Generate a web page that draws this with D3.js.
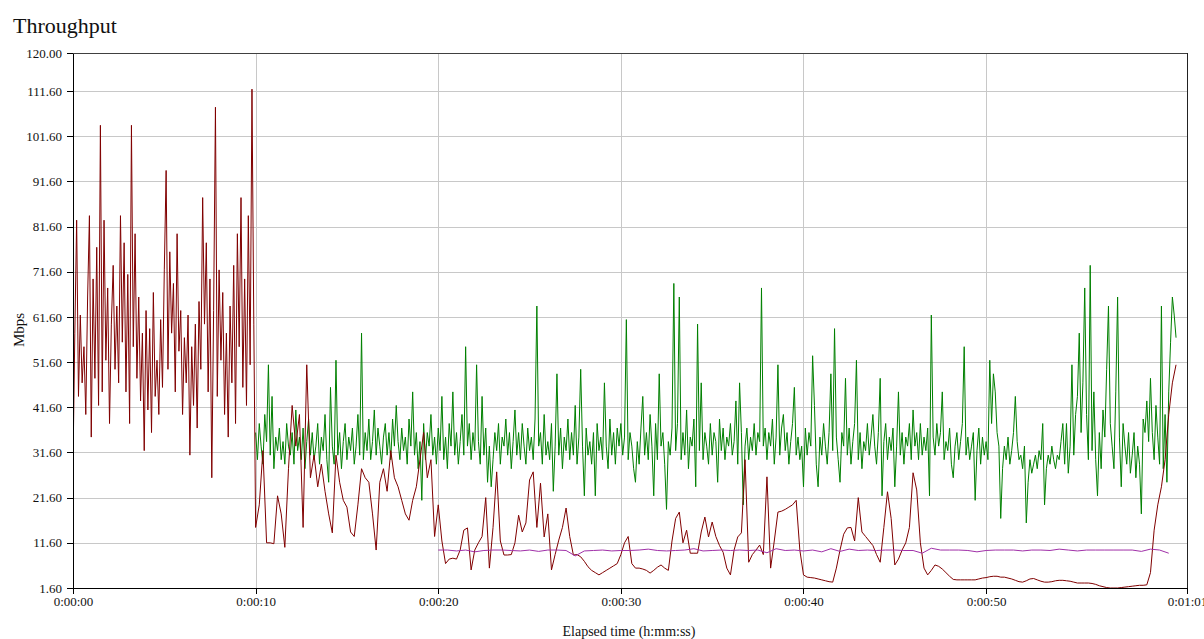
<!DOCTYPE html>
<html>
<head>
<meta charset="utf-8">
<script src="https://cdn.jsdelivr.net/npm/d3@7"></script>
<style>
body { margin: 0; background: #fff; }
svg { display: block; }
text { font-family: "Liberation Serif", "DejaVu Serif", serif; fill: #111; }
</style>
</head>
<body>
<div id="chart"></div>
<script>
// tick values
var yTicks = [1.6, 11.6, 21.6, 31.6, 41.6, 51.6, 61.6, 71.6, 81.6, 91.6, 101.6, 111.6, 120]
var xTicks = [0, 10, 20, 30, 40, 50, 61]

// red series, 0.0 .. 10.0 s, one value every 0.1 s
var redHead = [
  29, 58, 83, 44, 62, 47, 55, 40, 66, 84,
  35, 70, 48, 77, 42, 104, 45, 83, 52, 68,
  38, 60, 73, 50, 64, 47, 84, 56, 78, 45,
  71, 38, 104, 55, 80, 48, 66, 43, 58, 32,
  63, 41, 59, 36, 67, 44, 52, 40, 61, 46,
  72, 94, 50, 76, 58, 69, 45, 80, 54, 63,
  40, 57, 47, 62, 31, 55, 42, 60, 37, 65,
  50, 88, 60, 78, 45, 70, 26, 63, 108, 44,
  72, 52, 67, 40, 58, 35, 64, 47, 73, 38,
  80, 55, 88, 46, 70, 42, 84, 51, 112, 60,
  15
]
// red series, 10.2 .. 60.4 s, one value every 0.2 s (one row = one second)
var redTail = [
  20, 32, 11.6, 11.6, 11.4,
  22, 18, 10.6, 28, 42,
  33, 40, 15, 51, 26,
  31, 24, 29, 23, 18,
  13.8, 31, 25, 21, 19.5,
  14, 13, 20, 28, 26,
  25, 18, 10, 25, 28,
  23, 32, 26, 24, 21,
  18, 16.6, 21, 24, 30,
  36, 26, 30, 13, 20,
  12, 7, 8, 8.2, 8,
  10, 14.4, 14.9, 5.6, 10,
  11.6, 13, 21.6, 6, 15,
  27.3, 12, 8.9, 8.9, 9,
  11.6, 17.7, 14, 16, 25.5,
  27.3, 15, 24.8, 12.9, 18,
  5.6, 9, 12.2, 15, 19.3,
  13, 8.9, 9, 8.5, 7.5,
  6.3, 5.5, 5, 4.5, 5,
  5.5, 6, 6.5, 7, 9,
  11.6, 13, 7, 6, 6,
  5.8, 5.5, 4.9, 5.5, 6.2,
  6.7, 6, 5.5, 12, 17,
  18.4, 11.6, 14.4, 9.3, 9.3,
  9.3, 14, 17.3, 12.9, 16.2,
  13, 11, 9.5, 6, 4.5,
  10, 12.9, 13.8, 30, 7.3,
  9, 10, 11.1, 9, 26.2,
  6, 12, 18.4, 18.6, 19,
  19.5, 20, 21, 10, 4.5,
  4, 3.9, 3.8, 3.6, 3.4,
  3.2, 3, 2.9, 6, 10,
  13.5, 14.9, 15, 12, 21.6,
  14, 13, 12, 11, 9,
  7.3, 15, 22.9, 17, 6.7,
  8, 10, 11.6, 15, 27.1,
  23.3, 11.6, 6, 4.5, 5.5,
  6.7, 6.4, 5.8, 5, 4.2,
  3.5, 3.4, 3.4, 3.4, 3.4,
  3.4, 3.4, 3.6, 3.8, 3.9,
  4.1, 4.2, 4.2, 4.0, 4.0,
  3.8, 3.6, 3.3, 3.0, 2.9,
  3.2, 3.6, 3.7, 3.4, 3.1,
  2.9, 2.9, 3.0, 3.2, 3.3,
  3.3, 3.2, 3.1, 2.9, 2.7,
  2.7, 2.7, 2.7, 2.6, 2.4,
  2.1, 1.9, 1.7, 1.6, 1.6,
  1.6, 1.7, 1.8, 1.9, 2.0,
  2.1, 2.2, 2.2, 2.3, 5,
  14.4, 20, 24, 30, 40,
  47, 51
]
// green series, 10.0 .. 60.4 s, one value every 0.1 s (one row = one second)
var green = [
  36, 30, 38, 33, 29, 40, 34, 51, 31, 44,
  28, 35, 32, 37, 30, 34, 29, 38, 33, 31,
  36, 29, 41, 32, 35, 30, 37, 28, 34, 39,
  31, 36, 30, 33, 38, 29, 35, 32, 40, 30,
  25, 46, 33, 29, 52, 31, 36, 28, 34, 38,
  30, 35, 32, 37, 29, 33, 40, 31, 58, 30,
  36, 32, 39, 30, 34, 41, 31, 37, 33, 29,
  35, 38, 31, 36, 30, 39, 33, 42, 34, 30,
  37, 32, 35, 29, 39, 33, 45, 31, 36, 28,
  34, 21, 38, 30, 36, 33, 40, 31, 35, 29,
  37, 32, 44, 30, 35, 28, 38, 33, 45, 31,
  36, 29, 34, 40, 31, 55, 33, 38, 30, 36,
  32, 51, 34, 29, 44, 31, 37, 25, 33, 24,
  30, 36, 32, 38, 29, 35, 33, 39, 31, 36,
  28, 34, 41, 31, 36, 30, 38, 33, 29, 37,
  32, 35, 30, 39, 64, 33, 36, 29, 40, 31,
  34, 30, 38, 23, 33, 49, 31, 37, 28, 35,
  32, 39, 30, 36, 31, 42, 29, 35, 50, 33,
  22, 37, 31, 34, 29, 36, 22, 38, 32, 35,
  30, 47, 33, 28, 39, 31, 36, 29, 37, 33,
  38, 31, 35, 61, 30, 36, 33, 28, 25, 34,
  29, 37, 44, 31, 36, 30, 40, 33, 22, 38,
  30, 49, 33, 36, 29, 19, 34, 31, 37, 69,
  32, 38, 66, 30, 36, 31, 41, 28, 35, 33,
  39, 24, 60, 32, 47, 30, 36, 33, 29, 38,
  31, 36, 34, 25, 39, 32, 37, 30, 35, 33,
  38, 31, 34, 43, 29, 47, 36, 20, 33, 37,
  30, 35, 32, 38, 31, 36, 34, 68, 33, 37,
  30, 36, 33, 39, 29, 35, 51, 31, 37, 40,
  32, 36, 29, 34, 38, 46, 31, 35, 30, 33,
  24, 37, 31, 36, 33, 53, 42, 29, 24, 35,
  31, 38, 33, 29, 36, 49, 32, 59, 35, 30,
  25, 36, 33, 48, 31, 37, 29, 34, 38, 52,
  30, 36, 28, 34, 32, 38, 31, 35, 40, 33,
  29, 36, 48, 22, 34, 38, 30, 35, 32, 37,
  24, 33, 45, 31, 36, 29, 35, 33, 38, 30,
  41, 33, 36, 30, 38, 31, 35, 32, 37, 22,
  62, 35, 31, 38, 33, 36, 45, 30, 34, 32,
  37, 29, 26, 33, 36, 30, 34, 38, 55, 31,
  35, 30, 33, 36, 21, 32, 37, 29, 35, 31,
  34, 30, 52, 38, 49, 45, 36, 33, 17, 28,
  33, 30, 35, 29, 32, 36, 44, 34, 30, 31,
  28, 33, 16, 25, 30, 27, 29, 31, 28, 32,
  30, 38, 20, 28, 31, 29, 33, 30, 28, 31,
  30, 34, 38, 29, 38, 27, 33, 51, 31, 40,
  44, 58, 36, 47, 68, 40, 30, 73, 32, 45,
  30, 22, 36, 28, 41, 35, 50, 64, 38, 33,
  28, 45, 66, 35, 24, 38, 33, 29, 36, 27,
  31, 36, 26, 33, 29, 18, 39, 36, 43, 34,
  48, 36, 30, 42, 35, 29, 64, 28, 40, 25,
  45, 56, 66, 62, 57
]
// purple series, 20.0 .. 60.0 s, one value every 0.5 s
var purple = [
  10.0, 10.0, 9.8, 10.0, 9.6, 9.9, 10.0, 10.0, 9.9, 9.8,
  10.0, 9.7, 10.0, 10.0, 9.9, 8.7, 9.8, 9.9, 10.0, 9.8,
  9.9, 9.9, 10.0, 10.2, 9.9, 9.8, 9.9, 10.0, 10.3, 9.8,
  9.9, 10.0, 9.9, 10.0, 9.9, 10.0, 9.4, 10.3, 9.9, 10.0,
  9.8, 10.0, 9.6, 10.3, 9.7, 10.2, 9.9, 10.0, 9.9, 10.0,
  10.0, 9.9, 9.9, 9.3, 10.4, 10.0, 10.0, 10.0, 9.9, 9.6,
  9.9, 10.0, 10.0, 10.0, 9.8, 10.0, 10.0, 9.9, 10.2, 10.0,
  9.8, 10.0, 10.0, 10.0, 10.0, 10.0, 10.0, 9.7, 10.2, 10.0,
  9.3
]

var W = 1204, H = 639
var margin = {top: 53, right: 17, bottom: 51, left: 73}
var width = W - margin.left - margin.right
var height = H - margin.top - margin.bottom

var svg = d3.select("#chart").append("svg")
    .attr("width", W)
    .attr("height", H)

svg.append("text")
    .attr("x", 13).attr("y", 33)
    .style("font-size", "22px")
    .text("Throughput")

var g = svg.append("g")
    .attr("transform", "translate(" + margin.left + "," + margin.top + ")")

var x = d3.scaleLinear().domain([0, 61]).range([0, width])
var y = d3.scaleLinear().domain([1.6, 120]).range([height, 0])

// grid
g.append("g").selectAll("line").data(yTicks.slice(1, -1)).join("line")
    .attr("x1", 0).attr("x2", width)
    .attr("y1", d => Math.round(y(d)) + 0.5).attr("y2", d => Math.round(y(d)) + 0.5)
    .style("stroke", "#c8c8c8")
g.append("g").selectAll("line").data(xTicks.slice(1, -1)).join("line")
    .attr("y1", 0).attr("y2", height)
    .attr("x1", d => Math.round(x(d)) + 0.5).attr("x2", d => Math.round(x(d)) + 0.5)
    .style("stroke", "#c8c8c8")

// frame
g.append("line").attr("x1", 0).attr("x2", width).attr("y1", 0.5).attr("y2", 0.5)
    .style("stroke", "#404040")
g.append("line").attr("x1", width + 0.5).attr("x2", width + 0.5).attr("y1", 0).attr("y2", height)
    .style("stroke", "#222")

// series
function pts(values, t0, dt) {
  return values.map((v, i) => [t0 + i * dt, v])
}
var line = d3.line().x(d => x(d[0])).y(d => y(d[1]))

g.append("clipPath").attr("id", "clip")
    .append("rect").attr("width", width).attr("height", height)
var plot = g.append("g").attr("clip-path", "url(#clip)")

plot.append("path")
    .attr("d", line(pts(green, 10, 0.1)))
    .style("fill", "none").style("stroke", "#008000").style("stroke-width", 1)
plot.append("path")
    .attr("d", line(pts(redHead, 0, 0.1).concat(pts(redTail, 10.2, 0.2))))
    .style("fill", "none").style("stroke", "#800000").style("stroke-width", 1)
plot.append("path")
    .attr("d", line(pts(purple, 20, 0.5)))
    .style("fill", "none").style("stroke", "#a030a8").style("stroke-width", 1)

// axes
function hms(s) {
  var m = Math.floor(s / 60), r = s % 60
  return "0:" + String(m).padStart(2, "0") + ":" + String(r).padStart(2, "0")
}
var yAxis = g.append("g")
    .call(d3.axisLeft(y).tickValues(yTicks).tickFormat(d3.format(".2f")).tickSize(6).tickSizeOuter(0).tickPadding(5))
var xAxis = g.append("g")
    .attr("transform", "translate(0," + height + ")")
    .call(d3.axisBottom(x).tickValues(xTicks).tickFormat(hms).tickSize(6).tickSizeOuter(0).tickPadding(3))
;[yAxis, xAxis].forEach(a => {
  a.selectAll("text").style("font-size", "13px").style("font-family", "'Liberation Serif', serif").attr("fill", "#111")
  a.selectAll("line, path").style("stroke", "#000").style("shape-rendering", "crispEdges")
})

svg.append("text")
    .attr("transform", "translate(24," + 330 + ") rotate(-90)")
    .attr("text-anchor", "middle")
    .style("font-size", "15px")
    .text("Mbps")
svg.append("text")
    .attr("x", 629).attr("y", 636)
    .attr("text-anchor", "middle")
    .style("font-size", "14px")
    .text("Elapsed time (h:mm:ss)")
</script>
</body>
</html>
